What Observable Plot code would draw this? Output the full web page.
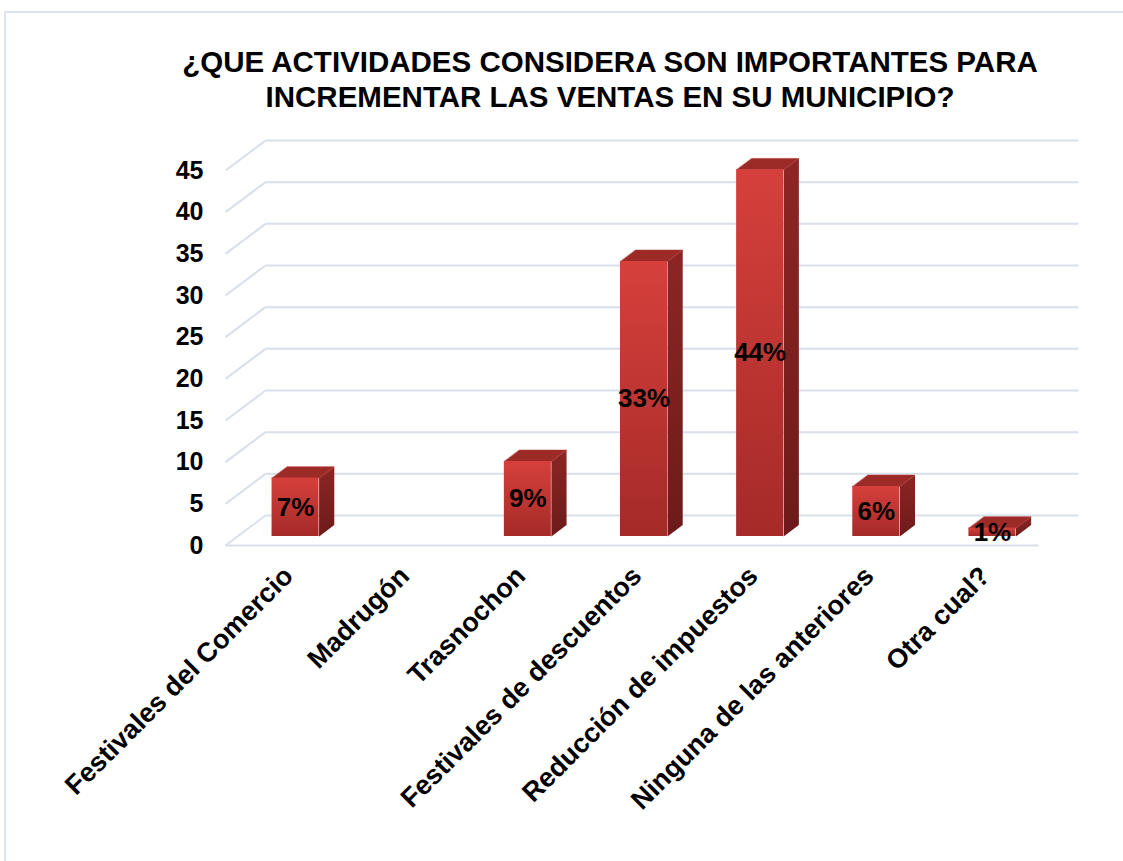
<!DOCTYPE html>
<html>
<head>
<meta charset="utf-8">
<script src="https://cdn.jsdelivr.net/npm/d3@7"></script>
<script src="https://cdn.jsdelivr.net/npm/@observablehq/plot@0.6"></script>
<style>
  html, body { margin: 0; padding: 0; background: #fff; }
  body { width: 1123px; height: 861px; position: relative; overflow: hidden; font-family: "Liberation Sans", Arial, sans-serif; }
  #frame { position: absolute; left: 4px; top: 11px; width: 1140px; height: 900px; border: 2px solid #DAE3EE; box-sizing: border-box; }
  #title { position: absolute; left: 110px; width: 1000px; top: 44px; text-align: center; font-weight: bold; font-size: 29.5px; line-height: 35px; color: #000; }
  #chart { position: absolute; left: 0; top: 120px; }
</style>
</head>
<body>
<div id="frame"></div>
<div id="title">¿QUE ACTIVIDADES CONSIDERA SON IMPORTANTES PARA<br>INCREMENTAR LAS VENTAS EN SU MUNICIPIO?</div>
<div id="chart"></div>
<script>
// ---- data ----
const categories = [
  "Festivales del Comercio",
  "Madrugón",
  "Trasnochon",
  "Festivales de descuentos",
  "Reducción de impuestos",
  "Ninguna de las anteriores",
  "Otra cual?"
];
const values = [7, 0, 9, 33, 44, 6, 1];
const yTicks = [0, 5, 10, 15, 20, 25, 30, 35, 40, 45];

// ---- pseudo-3D projection (depth expressed in data units) ----
const DX = 0.3444;   // full depth, in category units
const DY = 3.6;      // full depth, in value units
const F0 = 0.30;     // bar front depth fraction
const F1 = 0.68;     // bar back depth fraction
const HW = 0.2025;   // half bar width
const P = (x, y, f) => ({x: x + f * DX, y: y + f * DY});

const data = categories.map((c, i) => ({i, category: c, value: values[i]}));
const shown = data.filter(d => d.value > 0);

const gridColor = "#D9DFEA";
const gridBack = yTicks.map(v => ({a: P(-0.5, v, 1), b: P(6.5, v, 1)}));
const gridDiag = yTicks.map(v => ({a: P(-0.5, v, 0), b: P(-0.5, v, 1)}));
const floorFront = [{a: P(-0.5, 0, 0), b: P(6.5, 0, 0)}];

const sides = shown.flatMap(d => [
  P(d.i + HW, 0, F0), P(d.i + HW, 0, F1), P(d.i + HW, d.value, F1), P(d.i + HW, d.value, F0)
].map(p => ({...p, id: d.i})));
const tops = shown.flatMap(d => [
  P(d.i - HW, d.value, F0), P(d.i + HW, d.value, F0), P(d.i + HW, d.value, F1), P(d.i - HW, d.value, F1)
].map(p => ({...p, id: d.i})));
const fronts = shown.map(d => {
  const a = P(d.i - HW, 0, F0), b = P(d.i + HW, d.value, F0);
  return {x1: a.x, x2: b.x, y1: a.y, y2: b.y, cx: (a.x + b.x) / 2, cy: (a.y + b.y) / 2, label: d.value + "%"};
});

const linkOpts = {x1: d => d.a.x, y1: d => d.a.y, x2: d => d.b.x, y2: d => d.b.y, stroke: gridColor, strokeWidth: 2};

const svg = Plot.plot({
  width: 1123,
  height: 741,
  marginLeft: 225,
  marginRight: 85,
  marginTop: 50,
  marginBottom: 316,
  style: {fontFamily: "'Liberation Sans', Arial, sans-serif", fontSize: "25px", fontWeight: "bold", color: "#000", background: "transparent"},
  x: {domain: [-0.5, 6.5], axis: null},
  y: {domain: [0, 45], ticks: yTicks, tickSize: 0, tickPadding: 22, label: null},
  marks: [
    Plot.link(gridBack, linkOpts),
    Plot.link(gridDiag, linkOpts),
    Plot.link(floorFront, linkOpts),
    Plot.line(sides, {x: "x", y: "y", z: "id", fill: "url(#gSide)", stroke: "none", curve: "linear-closed"}),
    Plot.line(tops, {x: "x", y: "y", z: "id", fill: "#9C2B28", stroke: "#B0322F", strokeWidth: 0.6, curve: "linear-closed"}),
    Plot.rect(fronts, {x1: "x1", x2: "x2", y1: "y1", y2: "y2", fill: "url(#gFront)"}),
    Plot.text(fronts, {x: "cx", y: "cy", text: "label", fontSize: 26, fontWeight: "bold", fill: "#000"}),
    Plot.text(data, {x: "i", y: () => 0, text: "category", rotate: -45, textAnchor: "end", dx: 5, dy: 26, fontSize: 27, fontWeight: "bold", fill: "#000"})
  ]
});

d3.select(svg).insert("defs", ":first-child").html(`
  <linearGradient id="gFront" x1="0" y1="0" x2="0" y2="1">
    <stop offset="0" stop-color="#D6403C"/>
    <stop offset="1" stop-color="#A52A28"/>
  </linearGradient>
  <linearGradient id="gSide" x1="0" y1="0" x2="0" y2="1">
    <stop offset="0" stop-color="#8C2624"/>
    <stop offset="1" stop-color="#6C1B1A"/>
  </linearGradient>
`);
document.getElementById("chart").appendChild(svg);
</script>
</body>
</html>
